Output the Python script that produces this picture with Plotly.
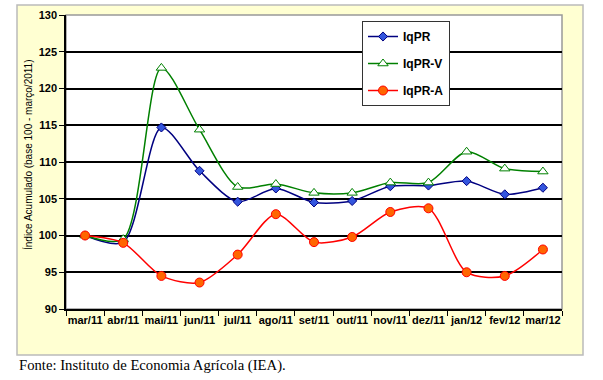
import plotly.graph_objects as go

months = ["mar/11", "abr/11", "mai/11", "jun/11", "jul/11", "ago/11", "set/11",
          "out/11", "nov/11", "dez/11", "jan/12", "fev/12", "mar/12"]
iqpr = [100.0, 99.1, 114.7, 108.8, 104.6, 106.4, 104.5, 104.7, 106.7, 106.8, 107.4, 105.6, 106.5]
iqpr_v = [100.0, 99.5, 122.8, 114.4, 106.6, 107.0, 105.8, 105.8, 107.2, 107.2, 111.4, 109.1, 108.7]
iqpr_a = [100.0, 99.0, 94.5, 93.6, 97.4, 102.9, 99.1, 99.8, 103.2, 103.7, 95.0, 94.5, 98.1]
y_ticks = [90, 95, 100, 105, 110, 115, 120, 125, 130]

fig = go.Figure()
fig.add_trace(go.Scatter(
    x=months, y=iqpr, name="IqPR", mode="lines+markers", legendgroup="a",
    line=dict(color="#000080", width=1.5, shape="spline", smoothing=0.8),
    marker=dict(symbol="diamond", size=7, color="#3355DD", line=dict(color="#000080", width=1)),
))
fig.add_trace(go.Scatter(
    x=months, y=iqpr_v, name="IqPR-V", mode="lines+markers", legendgroup="b",
    line=dict(color="#008000", width=1.5, shape="spline", smoothing=0.8),
    marker=dict(symbol="triangle-up", size=9, color="white", line=dict(color="#008000", width=1)),
))
fig.add_trace(go.Scatter(
    x=months, y=iqpr_a, name="IqPR-A", mode="lines+markers", legendgroup="c",
    line=dict(color="#FF0000", width=1.5, shape="spline", smoothing=0.8),
    marker=dict(symbol="circle", size=9, color="#FF6600", line=dict(color="#FF0000", width=1)),
))

L, R, T, B = 66, 41, 15, 71
W, H = 603, 380
pw, ph = W - L - R, H - T - B

def px_to_paper_x(px):
    return (px - L) / pw

def px_to_paper_y(py):
    return (H - B - py) / ph

fig.update_layout(
    width=W, height=H,
    margin=dict(l=L, r=R, t=T, b=B, autoexpand=False),
    paper_bgcolor="white",
    plot_bgcolor="rgba(0,0,0,0)",
    font=dict(family="Liberation Sans, Arial, sans-serif", color="black"),
    showlegend=True,
    legend=dict(
        x=px_to_paper_x(362), y=px_to_paper_y(21), xanchor="left", yanchor="top",
        bgcolor="white", bordercolor="#333333", borderwidth=1,
        font=dict(size=12, family="Liberation Sans, Arial, sans-serif", weight="bold"),
        tracegroupgap=8, itemwidth=30,
    ),
    shapes=[
        dict(type="rect", xref="paper", yref="paper",
             x0=px_to_paper_x(17), x1=px_to_paper_x(583),
             y0=px_to_paper_y(355), y1=px_to_paper_y(5),
             fillcolor="#FFFFD2", line=dict(color="#BBBBBB", width=1.5), layer="below"),
        dict(type="rect", xref="paper", yref="paper", x0=0, x1=1, y0=0, y1=1,
             fillcolor="white", line=dict(color="#999999", width=1.5), layer="below"),
    ],
    annotations=[
        dict(text="Fonte: Instituto de Economia Agrícola (IEA).", xref="paper", yref="paper",
             x=px_to_paper_x(17), y=px_to_paper_y(366), xanchor="left", yanchor="middle",
             showarrow=False, font=dict(family="Liberation Serif, Times New Roman, serif", size=14.7)),
        dict(text="Índice Acumulado (base 100 - março/2011)", xref="paper", yref="paper",
             x=px_to_paper_x(28), y=px_to_paper_y(155), textangle=-90, xanchor="center", yanchor="middle",
             showarrow=False, font=dict(size=10)),
    ],
)
fig.update_xaxes(
    type="category", tickson="boundaries", ticks="outside", ticklen=5, tickcolor="black",
    showline=True, linecolor="black", linewidth=1.5, showgrid=False, tickangle=0,
    automargin=False,
    tickfont=dict(size=11, family="Liberation Sans, Arial, sans-serif", weight="bold"),
    range=[-0.5, 12.5],
)
fig.update_yaxes(
    range=[90, 130], tickvals=y_ticks, ticks="outside", ticklen=5, tickcolor="black",
    showline=True, linecolor="black", linewidth=1.5, automargin=False,
    showgrid=True, gridcolor="black", gridwidth=1.6, zeroline=False,
    tickfont=dict(size=11, family="Liberation Sans, Arial, sans-serif", weight="bold"),
)

fig.write_html("out.html", config={"displayModeBar": False},
               post_script="document.body.style.margin='0';")
